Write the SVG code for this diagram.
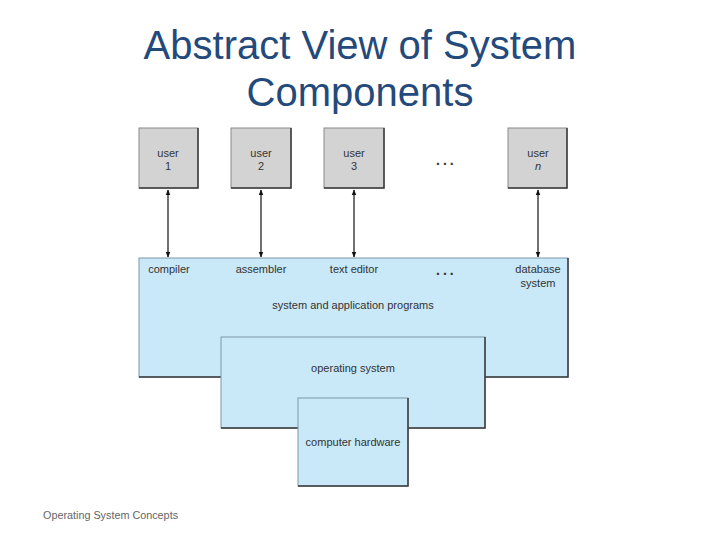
<svg xmlns="http://www.w3.org/2000/svg" width="720" height="540" viewBox="0 0 720 540">
<style>
.title{font-family:"Liberation Sans",Arial,sans-serif;font-size:40px;fill:#244a7c;text-anchor:middle}
.lbl{font-family:"Liberation Sans",Arial,sans-serif;font-size:11px;fill:#333;text-anchor:middle}
.dots{font-family:"Liberation Sans",Arial,sans-serif;font-size:14px;font-weight:bold;letter-spacing:3px;fill:#333}
.user{fill:#d3d3d3;stroke:#8a8a8a;stroke-width:1}
.blue{fill:#c9e8f8;stroke:#7f98aa;stroke-width:1}
.shadow{fill:none;stroke:#3a3a3a;stroke-width:1.5}
.conn{stroke:#111;stroke-width:1.2;fill:none;marker-start:url(#ah);marker-end:url(#ah)}
.foot{font-family:"Liberation Sans",Arial,sans-serif;font-size:10.8px;fill:#666}
</style>
<defs>
<marker id="ah" viewBox="0 0 10 10" refX="9" refY="5" markerWidth="6" markerHeight="6" orient="auto-start-reverse" markerUnits="userSpaceOnUse">
<path d="M0,1 L10,5 L0,9 Z" fill="#111"/>
</marker>
</defs>
<rect width="720" height="540" fill="#fff"/>
<text class="title" x="360" y="59">Abstract View of System</text>
<text class="title" x="360" y="106">Components</text>

<g id="apps">
<rect class="blue" x="139" y="258" width="429" height="119"/>
<polyline class="shadow" points="568,258 568,377 139,377"/>
<text class="lbl" x="169" y="273">compiler</text>
<text class="lbl" x="261" y="273">assembler</text>
<text class="lbl" x="354" y="273">text editor</text>
<text class="dots" x="436" y="275">...</text>
<text class="lbl" x="538" y="273">database</text>
<text class="lbl" x="538" y="287">system</text>
<text class="lbl" x="353" y="309">system and application programs</text>
</g>
<g id="os">
<rect class="blue" x="221" y="337" width="264" height="91"/>
<polyline class="shadow" points="485,337 485,428 221,428"/>
<text class="lbl" x="353" y="372">operating system</text>
</g>
<g id="hw">
<rect class="blue" x="298" y="398" width="110" height="88"/>
<polyline class="shadow" points="408,398 408,486 298,486"/>
<text class="lbl" x="353" y="446">computer hardware</text>
</g>

<g id="user1">
<rect class="user" x="139" y="128" width="59" height="60"/>
<polyline class="shadow" points="198,128 198,188 139,188"/>
<text class="lbl" x="168" y="157">user</text>
<text class="lbl" x="168" y="170">1</text>
</g>
<g id="user2">
<rect class="user" x="231" y="128" width="60" height="60"/>
<polyline class="shadow" points="291,128 291,188 231,188"/>
<text class="lbl" x="261" y="157">user</text>
<text class="lbl" x="261" y="170">2</text>
</g>
<g id="user3">
<rect class="user" x="324" y="128" width="60" height="60"/>
<polyline class="shadow" points="384,128 384,188 324,188"/>
<text class="lbl" x="354" y="157">user</text>
<text class="lbl" x="354" y="170">3</text>
</g>
<text class="dots" x="436" y="165">...</text>
<g id="usern">
<rect class="user" x="508" y="128" width="59" height="60"/>
<polyline class="shadow" points="567,128 567,188 508,188"/>
<text class="lbl" x="538" y="157">user</text>
<text class="lbl" x="538" y="170" font-style="italic">n</text>
</g>

<g id="connectors">
<line class="conn" x1="168" y1="190" x2="168" y2="257"/>
<line class="conn" x1="261" y1="190" x2="261" y2="257"/>
<line class="conn" x1="354" y1="190" x2="354" y2="257"/>
<line class="conn" x1="538" y1="190" x2="538" y2="257"/>
</g>

<text class="foot" x="43" y="519">Operating System Concepts</text>
</svg>
